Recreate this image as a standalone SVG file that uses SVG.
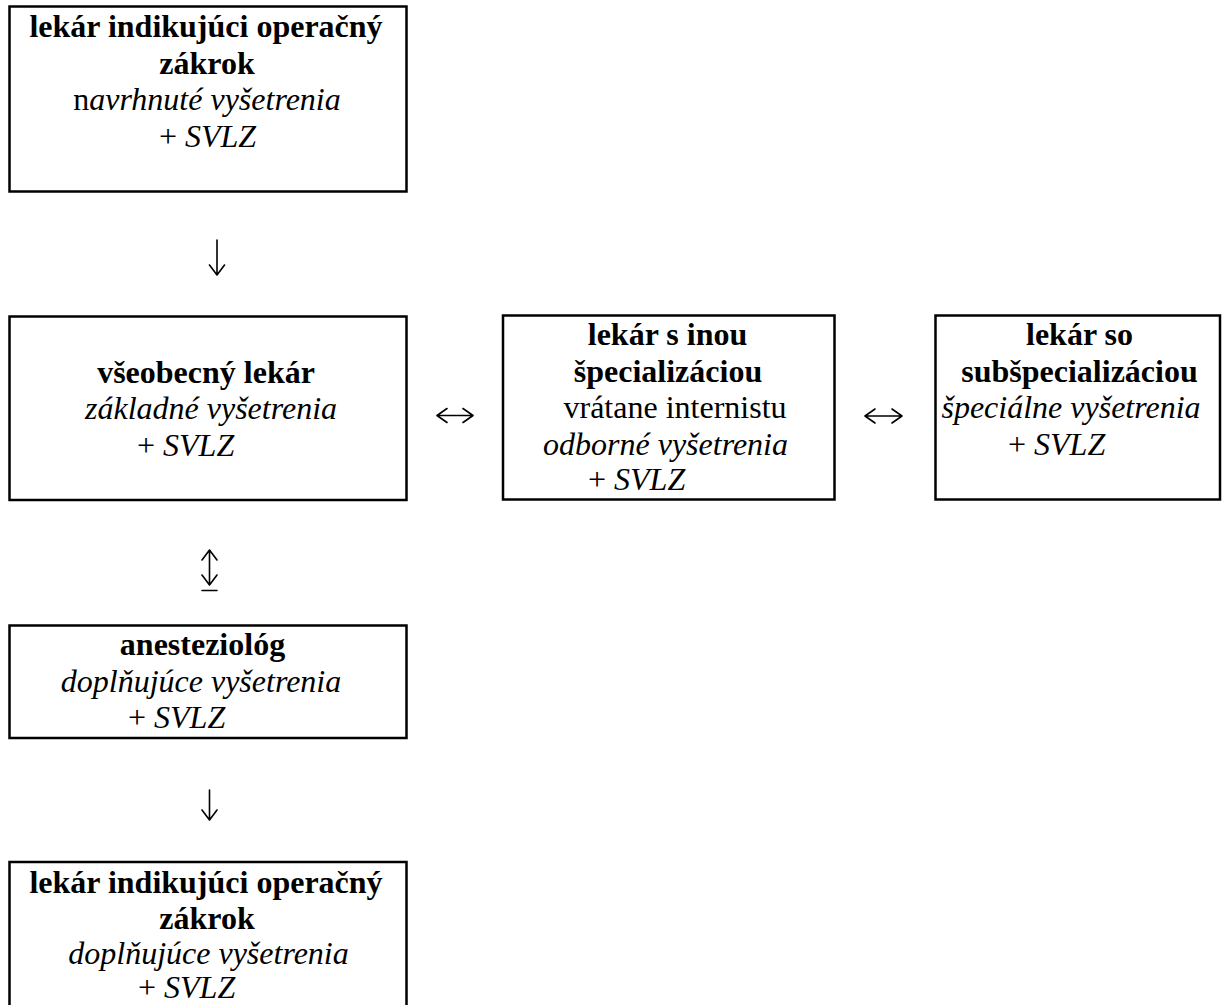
<svg xmlns="http://www.w3.org/2000/svg" width="1222" height="1005" viewBox="0 0 1222 1005" font-family="'Liberation Serif', Tinos, 'Times New Roman', Times, 'DejaVu Serif', serif">
<defs>
<style>
.box{fill:#fff;stroke:#000;stroke-width:2.5}
text{font-family:'Liberation Serif', Tinos, 'Times New Roman', Times, 'DejaVu Serif', serif;font-size:32px;fill:#000}
.b{font-weight:bold}
.i{font-style:italic}
.m{text-anchor:middle}
.c{fill:none;stroke:#000;stroke-width:1.6;stroke-linecap:round;stroke-linejoin:round}
</style>
</defs>
<rect width="1222" height="1005" fill="#fff"/>
<g id="n1">
<rect class="box" x="9.5" y="6.5" width="397" height="185"/>
<text class="b m" x="206" y="37">lekár indikujúci operačný</text>
<text class="b m" x="207" y="73.5">zákrok</text>
<text class="m" x="207" y="110">n<tspan class="i">avrhnuté vyšetrenia</tspan></text>
<text class="m" x="207.5" y="146.5">+ <tspan class="i">SVLZ</tspan></text>
</g>
<g id="n2">
<rect class="box" x="9.5" y="316.5" width="397" height="183.5"/>
<text class="b m" x="206" y="383">všeobecný lekár</text>
<text class="i m" x="211" y="419">základné vyšetrenia</text>
<text x="137" y="455.5">+ <tspan class="i">SVLZ</tspan></text>
</g>
<g id="n3">
<rect class="box" x="503" y="315.5" width="331.5" height="184"/>
<text class="b m" x="667.5" y="345">lekár s inou</text>
<text class="b m" x="668" y="381.5">špecializáciou</text>
<text class="m" x="675" y="418">vrátane internistu</text>
<text class="i m" x="665.5" y="454.5">odborné vyšetrenia</text>
<text x="588" y="490">+ <tspan class="i">SVLZ</tspan></text>
</g>
<g id="n4">
<rect class="box" x="935.5" y="315.5" width="284.5" height="184"/>
<text class="b m" x="1079.5" y="345">lekár so</text>
<text class="b m" x="1079.5" y="381.5">subšpecializáciou</text>
<text class="i m" x="1071" y="418">špeciálne vyšetrenia</text>
<text x="1008" y="454.5">+ <tspan class="i">SVLZ</tspan></text>
</g>
<g id="n5">
<rect class="box" x="9.5" y="625.5" width="397" height="112.5"/>
<text class="b m" x="202.5" y="655">anesteziológ</text>
<text class="i m" x="201" y="692">doplňujúce vyšetrenia</text>
<text x="128" y="727.5">+ <tspan class="i">SVLZ</tspan></text>
</g>
<g id="n6">
<path class="box" d="M9.5 1006 V862 H406.5 V1006" fill="#fff"/>
<text class="b m" x="206" y="893">lekár indikujúci operačný</text>
<text class="b m" x="207" y="928.5">zákrok</text>
<text class="i m" x="208.5" y="964">doplňujúce vyšetrenia</text>
<text x="138" y="998">+ <tspan class="i">SVLZ</tspan></text>
</g>
<g id="connectors">
<path class="c" d="M217 240 V275 M209.5 265 L217 275 L224.5 265"/>
<path class="c" d="M209.5 550 V585 M202 560 L209.5 550 L217 560 M202 575 L209.5 585 L217 575 M202 590.5 H217"/>
<path class="c" d="M209.5 790 V820 M202 810 L209.5 820 L217 810"/>
<path class="c" d="M437 415.5 H473 M447 408.5 L437 415.5 L447 422.5 M463 408.5 L473 415.5 L463 422.5"/>
<path class="c" d="M865 416 H902 M875 409 L865 416 L875 423 M892 409 L902 416 L892 423"/>
</g>
</svg>
